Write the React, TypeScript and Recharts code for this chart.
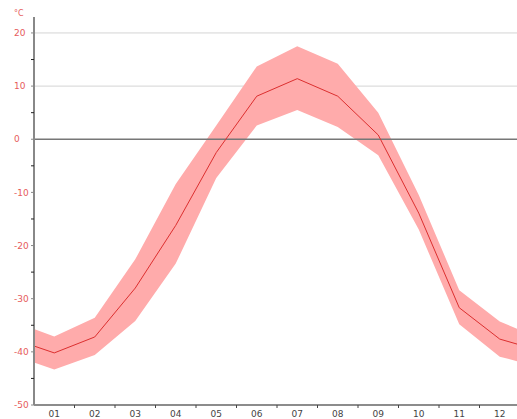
import React from 'react';
import {
  ComposedChart,
  Area,
  Line,
  XAxis,
  YAxis,
  CartesianGrid,
  ReferenceLine,
} from 'recharts';

// Month positions; 0.5 and 12.5 are the year wrap-around at the plot edges
const monthPos = [0.5, 1, 2, 3, 4, 5, 6, 7, 8, 9, 10, 11, 12, 12.5];
const monthLabels = ['01', '02', '03', '04', '05', '06', '07', '08', '09', '10', '11', '12'];

// Mean temperature (°C)
const meanTemp = [-38.9, -40.2, -37.2, -28.0, -16.2, -2.5, 8.1, 11.4, 8.1, 0.8, -13.9, -31.7, -37.6, -38.7];
// Mean daily maximum (°C)
const maxTemp = [-35.7, -37.1, -33.6, -22.6, -8.4, 2.6, 13.7, 17.5, 14.2, 5.0, -10.5, -28.4, -34.3, -35.9];
// Mean daily minimum (°C)
const minTemp = [-42.0, -43.3, -40.6, -34.2, -23.4, -7.3, 2.6, 5.5, 2.3, -3.0, -17.0, -34.8, -40.9, -41.9];

const yTicks = [-50, -45, -40, -35, -30, -25, -20, -15, -10, -5, 0, 5, 10, 15, 20];
const xTicks = [1, 1.5, 2, 2.5, 3, 3.5, 4, 4.5, 5, 5.5, 6, 6.5, 7, 7.5, 8, 8.5, 9, 9.5, 10, 10.5, 11, 11.5, 12];

const data = monthPos.map((m, i) => ({
  m,
  mean: meanTemp[i],
  range: [minTemp[i], maxTemp[i]],
}));

const FONT = '"DejaVu Sans", sans-serif';

const YTick = (props: any) => {
  const { x, y, payload } = props;
  const v = payload.value;
  if (v % 10 === 0) {
    return (
      <g>
        <line x1={x - 3} x2={x} y1={y} y2={y} stroke="#888" strokeWidth={1} />
        <text x={x - 20} y={y} dy="0.35em" textAnchor="start" fontSize={9} fontFamily={FONT} fill="#e65c5c">
          {v}
        </text>
      </g>
    );
  }
  return <line x1={x - 3} x2={x} y1={y} y2={y} stroke="#222" strokeWidth={1} />;
};

const XTick = (props: any) => {
  const { x, y, payload } = props;
  const v = payload.value;
  if (Number.isInteger(v)) {
    return (
      <text x={x} y={y + 12} textAnchor="middle" fontSize={9} fontFamily={FONT} fill="#444">
        {monthLabels[v - 1]}
      </text>
    );
  }
  return <line x1={x} x2={x} y1={y} y2={y + 3} stroke="#444" strokeWidth={1} />;
};

export default function App() {
  return (
    <div style={{ position: 'absolute', left: 0, top: 0, width: 517, height: 419, overflow: 'hidden' }}>
      <div style={{ position: 'absolute', left: 8, top: 8 }}>
        <ComposedChart
          width={520}
          height={411}
          data={data}
          margin={{ top: 9, right: 8, left: 0, bottom: 0 }}
        >
          <CartesianGrid horizontal vertical={false} horizontalValues={[10, 20]} stroke="#d4d4d4" strokeWidth={1} />
          <XAxis
            dataKey="m"
            type="number"
            domain={[0.5, 12.5]}
            ticks={xTicks}
            interval={0}
            height={14}
            tickSize={0}
            tickMargin={0}
            tickLine={false}
            axisLine={{ stroke: '#666', strokeWidth: 1.5 }}
            tick={<XTick />}
            allowDataOverflow
          />
          <YAxis
            type="number"
            domain={[-50, 23]}
            ticks={yTicks}
            interval={0}
            width={26}
            tickSize={0}
            tickMargin={0}
            tickLine={false}
            axisLine={{ stroke: '#888', strokeWidth: 2 }}
            tick={<YTick />}
            allowDataOverflow
            label={{
              content: (p: any) => (
                <text x={6} y={p.viewBox ? p.viewBox.y - 1 : 8} fontSize={8} fontFamily={FONT} fill="#e65c5c">
                  °C
                </text>
              ),
            }}
          />
          <Area
            dataKey="range"
            type="linear"
            stroke="none"
            fill="#ffabab"
            fillOpacity={1}
            isAnimationActive={false}
            activeDot={false}
          />
          <ReferenceLine y={0} stroke="#777" strokeWidth={1.5} />
          <Line
            dataKey="mean"
            type="linear"
            stroke="#dc2f2f"
            strokeWidth={1}
            dot={false}
            activeDot={false}
            isAnimationActive={false}
          />
        </ComposedChart>
      </div>
    </div>
  );
}
